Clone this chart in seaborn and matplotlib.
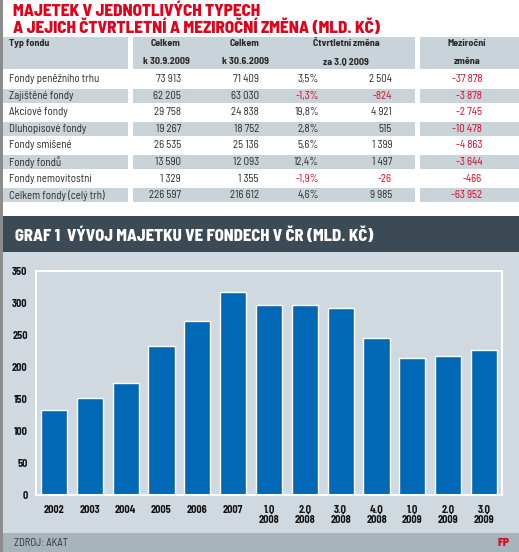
import numpy as np
import pandas as pd
import matplotlib
matplotlib.use("Agg")
import matplotlib.pyplot as plt
import seaborn as sns
from matplotlib.patches import Rectangle
from matplotlib.ticker import FixedLocator

# -----------------------------
# Data
# -----------------------------
fund_types = ["Fondy peněžního trhu", "Zajištěné fondy", "Akciové fondy",
              "Dluhopisové fondy", "Fondy smíšené", "Fondy fondů",
              "Fondy nemovitostní", "Celkem fondy (celý trh)"]
total_q3 = [73913, 62205, 29758, 19267, 26535, 13590, 1329, 226597]
total_q2 = [71409, 63030, 24838, 18752, 25136, 12093, 1355, 216612]
q_change_pct = [3.5, -1.3, 19.8, 2.8, 5.6, 12.4, -1.9, 4.6]
q_change = [2504, -824, 4921, 515, 1399, 1497, -26, 9985]
y_change = [-37878, -3878, -2745, -10478, -4863, -3644, -466, -63952]

periods = ["2002", "2003", "2004", "2005", "2006", "2007",
           "1.Q\n2008", "2.Q\n2008", "3.Q\n2008", "4.Q\n2008",
           "1.Q\n2009", "2.Q\n2009", "3.Q\n2009"]
assets = [132, 151, 174, 232, 271, 316, 297, 297, 292, 245, 214, 217, 227]

# -----------------------------
# Style
# -----------------------------
sns.set_style("white")
plt.rcParams["font.family"] = ["Barlow Semi Condensed", "DejaVu Sans"]

RED = "#e2001a"
BLUE = "#0068b4"
PANEL = "#d0d9df"
SHADE = "#c9d3da"
DARK = "#3b4a55"
FOOT = "#a8b4bb"
TXT = "#2a2a2a"


def fmt_num(v):
    return f"{v:,}".replace(",", " ")


def fmt_pct(p):
    return f"{p:.1f}%".replace(".", ",")


fig = plt.figure(figsize=(5.19, 5.52), dpi=100)
fig.patch.set_facecolor("white")
renderer = fig.canvas.get_renderer()


def fit_size(sample, width_px, weight="normal"):
    t = fig.text(0, 0, sample, fontsize=10, fontweight=weight)
    w = t.get_window_extent(renderer).width
    t.remove()
    return 10 * width_px / w


# background axes in pixel coordinates
bg = fig.add_axes([0, 0, 1, 1])
bg.set_xlim(0, 519)
bg.set_ylim(552, 0)
bg.axis("off")

# panels
bg.add_patch(Rectangle((0, 216), 519, 36, color=DARK, lw=0))
bg.add_patch(Rectangle((0, 252), 519, 281, color=PANEL, lw=0))
bg.add_patch(Rectangle((0, 533), 519, 19, color=FOOT, lw=0))
bg.add_patch(Rectangle((0, 0), 2.5, 552, color="#8c8c8c", lw=0))

# title
title2 = "A JEJICH ČTVRTLETNÍ A MEZIROČNÍ ZMĚNA (MLD. KČ)"
ts = fit_size(title2, 367, 800)
bg.text(13, 11, "MAJETEK V JEDNOTLIVÝCH TYPECH", color=RED, fontsize=ts,
        fontweight=800, va="center", ha="left")
bg.text(13, 28, title2, color=RED, fontsize=ts, fontweight=800,
        va="center", ha="left")

# -----------------------------
# Table
# -----------------------------
blocks = [(3, 125), (133, 282), (420, 99)]
for x0, w in blocks:
    bg.add_patch(Rectangle((x0, 37), w, 32, color=SHADE, lw=0))

row_y = [79 + 16.6 * i for i in range(len(fund_types))]
for i, y in enumerate(row_y):
    if i % 2 == 1:
        for x0, w in blocks:
            bg.add_patch(Rectangle((x0, y - 7), w, 14, color=SHADE, lw=0))

hs = fit_size("Čtvrtletní změna", 66, "bold")
hdr = dict(fontsize=hs, fontweight="bold", color=TXT, va="center")
bg.text(9, 44, "Typ fondu", ha="left", **hdr)
bg.text(166, 44, "Celkem", ha="center", **hdr)
bg.text(166, 62, "k 30.9.2009", ha="center", **hdr)
bg.text(245, 44, "Celkem", ha="center", **hdr)
bg.text(245, 62, "k 30.6.2009", ha="center", **hdr)
bg.text(346, 44, "Čtvrtletní změna", ha="center", **hdr)
bg.text(346, 62, "za 3.Q 2009", ha="center", **hdr)
bg.text(467, 44, "Meziroční", ha="center", **hdr)
bg.text(467, 62, "změna", ha="center", **hdr)

cs = fit_size("Fondy peněžního trhu", 91)
cell = dict(fontsize=cs, va="center")
for i, y in enumerate(row_y):
    bg.text(9, y, fund_types[i], ha="left", color=TXT, **cell)
    bg.text(181, y, fmt_num(total_q3[i]), ha="right", color=TXT, **cell)
    bg.text(259, y, fmt_num(total_q2[i]), ha="right", color=TXT, **cell)
    bg.text(319, y, fmt_pct(q_change_pct[i]), ha="right",
            color=RED if q_change_pct[i] < 0 else TXT, **cell)
    bg.text(392, y, fmt_num(q_change[i]), ha="right",
            color=RED if q_change[i] < 0 else TXT, **cell)
    bg.text(482, y, fmt_num(y_change[i]), ha="right",
            color=RED if y_change[i] < 0 else TXT, **cell)

# chart header + footer text
graf = "GRAF 1  VÝVOJ MAJETKU VE FONDECH V ČR (MLD. KČ)"
bg.text(15, 235.5, graf, color="white", fontsize=fit_size(graf, 357, 800),
        fontweight=800, va="center", ha="left")
bg.text(14, 543, "ZDROJ: AKAT", color="#333333",
        fontsize=fit_size("ZDROJ: AKAT", 54), va="center", ha="left")
bg.text(510, 543, "FP", color=RED, fontsize=fit_size("FP", 12, 800),
        fontweight=800, va="center", ha="right")

# -----------------------------
# Bar chart
# -----------------------------
ax = fig.add_axes([36 / 519, 57 / 552, 466 / 519, 224.3 / 552])
ax.set_facecolor("none")

df = pd.DataFrame({"period": periods, "assets": assets})
sns.barplot(data=df, x="period", y="assets", color=BLUE, saturation=1,
            width=0.73, ax=ax)

ax.set_xlim(-0.5, len(periods) - 0.5)
ax.set_ylim(0, 350)
ax.set_yticks(np.arange(0, 351, 50))
ax.set_xlabel("")
ax.set_ylabel("")

for s in ax.spines.values():
    s.set_visible(True)
    s.set_color("white")
    s.set_linewidth(1.5)

ls = fit_size("2002", 21, "bold")
ax.tick_params(axis="y", direction="in", length=8.5, width=1.2, color="white",
               pad=6, labelsize=ls)
ax.tick_params(axis="x", which="major", length=0, pad=7, labelsize=ls)
ax.xaxis.set_minor_locator(FixedLocator(np.arange(0.5, len(periods) - 1, 1)))
ax.tick_params(axis="x", which="minor", direction="in", length=3.5, width=1.2,
               color="white")
for lab in ax.get_xticklabels() + ax.get_yticklabels():
    lab.set_fontweight("bold")
    lab.set_color("#111111")
    lab.set_linespacing(1.05)

fig.savefig("out.png", dpi=100, facecolor=fig.get_facecolor())
